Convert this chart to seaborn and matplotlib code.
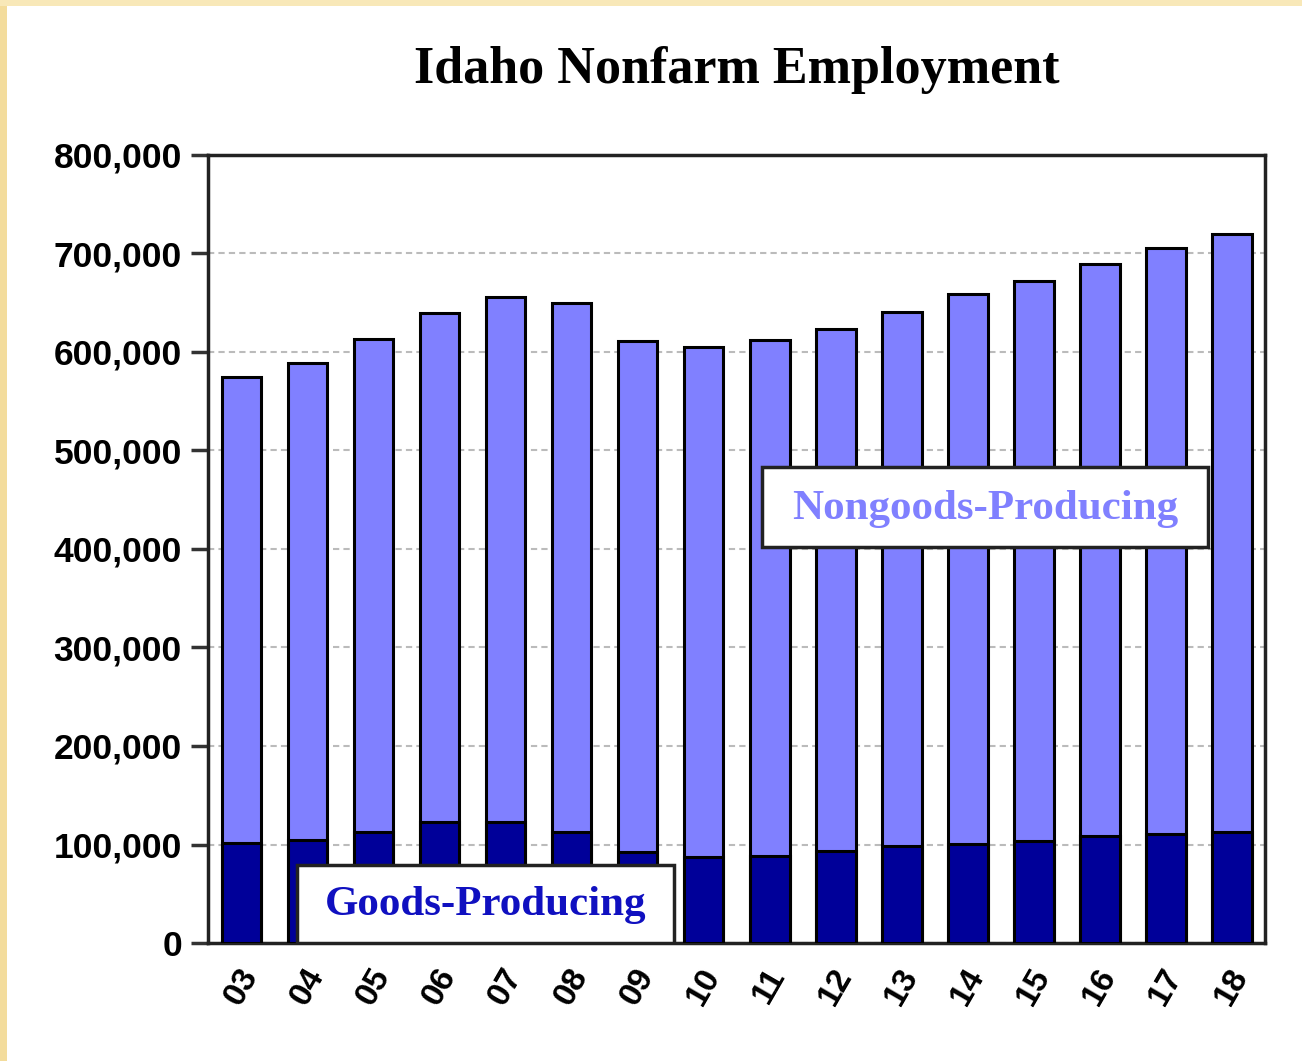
import matplotlib
matplotlib.use("Agg")
import matplotlib.pyplot as plt
from matplotlib.patches import Rectangle
from matplotlib.ticker import FuncFormatter, MultipleLocator
import pandas as pd
import seaborn as sns

# Idaho nonfarm employment
years = ["03", "04", "05", "06", "07", "08", "09", "10",
         "11", "12", "13", "14", "15", "16", "17", "18"]
total_jobs = [575000, 589000, 613000, 640000, 656000, 650000, 611000, 605000,
              612000, 623000, 641000, 659000, 672000, 689000, 706000, 720000]
goods_jobs = [101500, 105000, 112500, 122500, 122500, 112500, 92000, 87000,
              88000, 93000, 98000, 101000, 104000, 108500, 111000, 112500]

GOODS_COLOR = "#000099"
NONGOODS_COLOR = "#8080FF"

df = pd.DataFrame({"year": years, "total": total_jobs, "goods": goods_jobs})

sns.set_theme(style="white")
plt.rcParams["font.family"] = ["Liberation Sans", "DejaVu Sans"]
plt.rcParams["text.color"] = "black"
plt.rcParams["xtick.color"] = "black"
plt.rcParams["ytick.color"] = "black"

fig = plt.figure(figsize=(13.02, 10.61), dpi=100)
fig.patch.set_facecolor("white")
# beige frame on top and left edges
fig.patches.append(Rectangle((0, 0), 0.005, 1, transform=fig.transFigure,
                             facecolor="#F3DC9C", edgecolor="none", zorder=-1))
fig.patches.append(Rectangle((0, 0.994), 1, 0.006, transform=fig.transFigure,
                             facecolor="#F8E8B8", edgecolor="none", zorder=-1))

ax = fig.add_axes([0.16, 0.1112, 0.8116, 0.7428])

# stacked bars: total first (light), goods over it (dark)
sns.barplot(data=df, x="year", y="total", color=NONGOODS_COLOR, saturation=1,
            width=0.6, edgecolor="black", linewidth=2.2, ax=ax, zorder=3)
sns.barplot(data=df, x="year", y="goods", color=GOODS_COLOR, saturation=1,
            width=0.6, edgecolor="black", linewidth=2.2, ax=ax, zorder=4)

ax.set_xlim(-0.5, len(years) - 0.5)
ax.set_ylim(0, 800000)
ax.yaxis.set_major_locator(MultipleLocator(100000))
ax.yaxis.set_major_formatter(FuncFormatter(lambda v, p: f"{int(v):,}"))
ax.grid(axis="y", color="#BBBBBB", linestyle=(0, (3, 2)), linewidth=1.5, zorder=0)
ax.set_axisbelow(True)

for sp in ax.spines.values():
    sp.set_visible(True)
    sp.set_color("#222222")
    sp.set_linewidth(2.5)

ax.tick_params(axis="y", which="major", left=True, length=12, width=2.5,
               color="#333333", labelcolor="black", pad=7, labelsize=25.5)
ax.tick_params(axis="x", bottom=False, pad=8, labelsize=24, labelcolor="black")
for lbl in ax.get_yticklabels():
    lbl.set_fontweight("bold")
for lbl in ax.get_xticklabels():
    lbl.set_fontweight("bold")
    lbl.set_rotation(60)
    lbl.set_ha("center")
    lbl.set_va("top")

ax.set_xlabel("")
ax.set_ylabel("")

serif = ["Liberation Serif", "DejaVu Serif"]
fig.text(0.566, 0.934, "Idaho Nonfarm Employment", family=serif,
         fontsize=37.5, fontweight="bold", color="black", ha="center", va="center")

# label boxes
ax.add_patch(Rectangle((0.85, 0), 5.7, 79000, facecolor="white",
                       edgecolor="#222222", linewidth=2.5, zorder=6))
ax.text(3.7, 38500, "Goods-Producing", family=serif, fontsize=31,
        fontweight="bold", color="#1010C0", ha="center", va="center", zorder=7)

ax.add_patch(Rectangle((7.88, 402000), 6.75, 81000, facecolor="white",
                       edgecolor="#222222", linewidth=2.5, zorder=6))
ax.text(11.26, 441000, "Nongoods-Producing", family=serif, fontsize=31,
        fontweight="bold", color=NONGOODS_COLOR, ha="center", va="center", zorder=7)

fig.savefig("out.png", dpi=100)
